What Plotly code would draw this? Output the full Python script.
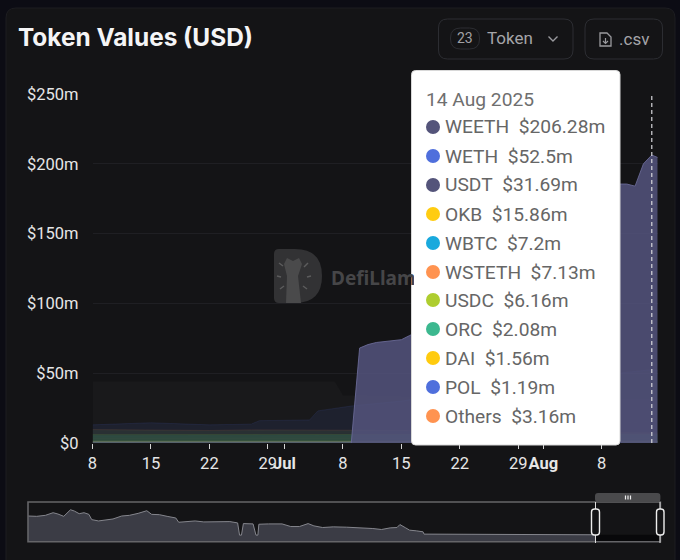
import pandas as pd
import plotly.graph_objects as go

W, H = 680, 560

TITLE = "Token Values (USD)"
TOOLTIP_DATE = "14 Aug 2025"
HOVER_DATE = "2025-08-14"
RANGE_START = "2025-06-08"
RANGE_END = "2025-08-14 17:00"

WEETH_DATES = ["2025-06-08", "2025-07-09", "2025-07-10", "2025-07-11", "2025-07-12", "2025-07-13", "2025-07-14",
               "2025-07-15", "2025-07-16", "2025-07-17", "2025-07-22", "2025-07-29", "2025-08-05", "2025-08-09",
               "2025-08-10", "2025-08-11", "2025-08-12", "2025-08-13", "2025-08-14", "2025-08-14 17:00"]
WEETH = [0, 0, 68, 70.5, 72, 72.5, 73, 74, 77, 80, 105, 135, 170, 184, 185.5, 185.5, 184, 200, 206.28, 204.5]

LOW_DATES = ["2025-06-08", "2025-06-15", "2025-06-22", "2025-06-27", "2025-06-28", "2025-07-04", "2025-07-05",
             "2025-07-07", "2025-07-08", "2025-07-09", "2025-07-15", "2025-07-22", "2025-07-29", "2025-08-05",
             "2025-08-10", "2025-08-14", "2025-08-14 17:00"]
WETH = [13, 14.5, 13, 13.5, 16, 16.5, 23, 25, 26, 26.5, 30, 36, 42, 47, 50, 52.5, 52]
USDT = [44, 44, 44, 44, 44, 44, 44, 44, 34, 34, 33, 33, 32, 32, 32, 31.69, 31.6]
OKB = [3, 3, 3, 3, 3, 3, 3, 3, 3, 3, 4, 5, 7, 10, 14, 15.86, 15.8]
WBTC = [5, 5, 5, 5, 5, 5, 5, 5, 5, 5, 5.5, 6, 6.5, 7, 7.1, 7.2, 7.2]
WSTETH = [9.6, 9.4, 9.0, 9.4, 9.4, 9.3, 9.3, 9.3, 9.3, 9.2, 9, 8.5, 8, 7.5, 7.2, 7.13, 7.1]
USDC = [6, 6.1, 6, 6, 6.1, 6.1, 6, 6, 6, 6, 6.1, 6.1, 6.2, 6.2, 6.2, 6.16, 6.16]
ORC = [2, 2, 2, 2, 2, 2, 2, 2, 2, 2, 2, 2, 2.1, 2.1, 2.1, 2.08, 2.08]
DAI = [1.5, 1.5, 1.5, 1.5, 1.5, 1.5, 1.5, 1.5, 1.5, 1.5, 1.5, 1.5, 1.5, 1.5, 1.55, 1.56, 1.56]
POL = [1, 1, 1, 1, 1, 1, 1, 1.1, 1.1, 1.1, 1.1, 1.1, 1.2, 1.2, 1.2, 1.19, 1.19]
OTHERS = [3, 3, 3, 3, 3, 3, 3, 3, 3, 3, 3, 3.1, 3.1, 3.1, 3.2, 3.16, 3.16]

TOOLTIP_NAMES = ["WEETH", "WETH", "USDT", "OKB", "WBTC", "WSTETH", "USDC", "ORC", "DAI", "POL", "Others"]
TOOLTIP_VALUES = ["$206.28m", "$52.5m", "$31.69m", "$15.86m", "$7.2m", "$7.13m", "$6.16m", "$2.08m", "$1.56m", "$1.19m", "$3.16m"]
DOT_COLORS = ["#54547a", "#4f6fdc", "#54547a", "#ffcc11", "#19a9dd", "#ff9350", "#aecd2f", "#3cb88f", "#ffcb0e", "#4f6fdc", "#ff9350"]

Y_TICKS = [0, 50, 100, 150, 200, 250]
Y_LABELS = ["$0", "$50m", "$100m", "$150m", "$200m", "$250m"]
X_TICKS = ["2025-06-08", "2025-06-15", "2025-06-22", "2025-06-29", "2025-07-01", "2025-07-08", "2025-07-15",
           "2025-07-22", "2025-07-29", "2025-08-01", "2025-08-08"]
X_LABELS = ["8", "15", "22", "29", "<b>Jul</b>", "8", "15", "22", "29", "<b>Aug</b>", "8"]

OV_START = "2023-10-30"
OV_DAY = [0, 9, 18, 26, 31, 37, 44, 48, 53, 58, 63, 66, 73, 81, 88, 97, 105, 114, 123, 128, 136, 144, 153, 156, 164,
          173, 182, 191, 200, 209, 217, 219, 221, 223, 233, 236, 238, 239, 249, 263, 272, 281, 290, 296, 305, 316,
          330, 343, 357, 366, 375, 382, 385, 391, 395, 402, 409, 410, 465, 510, 587]
OV_VALUE = [156, 154, 160, 176, 168, 154, 194, 186, 170, 176, 166, 134, 126, 134, 138, 156, 160, 172, 188, 166, 164,
            154, 144, 118, 122, 126, 120, 122, 124, 122, 114, 40, 40, 110, 108, 40, 40, 106, 108, 108, 92, 92, 110,
            96, 86, 90, 88, 86, 80, 74, 84, 86, 104, 84, 70, 66, 60, 46, 44, 44, 42]
OV_WINDOW_DAY = [587, 654.7]
OV_WINDOW_VALUE = [42, 42]


def px(x):
    return x / W


def py(y):
    return 1 - y / H


def rrect(x0, y0, x1, y1, r):
    a, b, c, d = px(x0), py(y0), px(x1), py(y1)
    rx, ry = r / W, r / H
    return (f"M{a+rx},{b} L{c-rx},{b} Q{c},{b} {c},{b-ry} L{c},{d+ry} Q{c},{d} {c-rx},{d} "
            f"L{a+rx},{d} Q{a},{d} {a},{d+ry} L{a},{b-ry} Q{a},{b} {a+rx},{b} Z")


def poly(points, close=False):
    s = "M" + " L".join(f"{px(x)},{py(y)}" for x, y in points)
    return s + (" Z" if close else "")


fig = go.Figure()


def area(x, y, fill, line, name):
    fig.add_trace(go.Scatter(x=x, y=y, name=name, mode="lines", fill="tozeroy", fillcolor=fill,
                             line=dict(color=line, width=1), showlegend=False, hoverinfo="skip",
                             xaxis="x", yaxis="y"))


area(LOW_DATES, USDT, "rgba(255,255,255,0.022)", "rgba(255,255,255,0.008)", "USDT")
area(LOW_DATES, WETH, "rgba(79,111,220,0.10)", "rgba(79,111,220,0.12)", "WETH")
area(LOW_DATES, OKB, "rgba(255,204,17,0.01)", "rgba(255,204,17,0.02)", "OKB")
area(LOW_DATES, WSTETH, "rgba(150,200,110,0.09)", "rgba(255,147,80,0.10)", "WSTETH")
area(LOW_DATES, WBTC, "rgba(25,169,221,0.02)", "rgba(25,169,221,0.03)", "WBTC")
area(LOW_DATES, USDC, "rgba(80,190,110,0.17)", "rgba(174,205,47,0.08)", "USDC")
area(LOW_DATES, OTHERS, "rgba(255,147,80,0.005)", "rgba(255,147,80,0.02)", "Others")
area(LOW_DATES, ORC, "rgba(60,184,143,0.02)", "rgba(60,184,143,0.04)", "ORC")
area(LOW_DATES, DAI, "rgba(255,203,14,0.05)", "rgba(255,203,14,0.08)", "DAI")
area(LOW_DATES, POL, "rgba(200,200,200,0.10)", "rgba(200,200,200,0.20)", "POL")
area(WEETH_DATES, WEETH, "rgba(84,84,125,0.86)", "rgba(105,105,150,0.9)", "WEETH")

ov_x = pd.Timestamp(OV_START) + pd.to_timedelta(OV_DAY, unit="D")
ov_wx = pd.Timestamp(OV_START) + pd.to_timedelta(OV_WINDOW_DAY, unit="D")
fig.add_trace(go.Scatter(x=ov_x, y=OV_VALUE, mode="lines", fill="tozeroy", fillcolor="#3b3c45",
                         line=dict(color="#85868d", width=1), showlegend=False, hoverinfo="skip",
                         xaxis="x2", yaxis="y2"))
fig.add_trace(go.Scatter(x=ov_wx, y=OV_WINDOW_VALUE, mode="lines", fill="tozeroy", fillcolor="#08080a",
                         line=dict(color="rgba(0,0,0,0)", width=0), showlegend=False, hoverinfo="skip",
                         xaxis="x2", yaxis="y2"))

PANEL = "#141416"
BORDER = "#2c2d32"
GREY = "#9a9a9e"
shapes = [
    dict(type="path", path=rrect(6, 8, 675, 575, 10), fillcolor=PANEL, line=dict(color="#1d1d21", width=1),
         xref="paper", yref="paper", layer="below"),
    dict(type="path", path=rrect(438.5, 19, 573, 59, 9), fillcolor="rgba(0,0,0,0)", line=dict(color=BORDER, width=1),
         xref="paper", yref="paper"),
    dict(type="path", path=rrect(450.5, 28, 479.5, 49, 10), fillcolor="rgba(0,0,0,0)", line=dict(color=BORDER, width=1),
         xref="paper", yref="paper"),
    dict(type="path", path=poly([(548.5, 36.5), (553, 41), (557.5, 36.5)]), line=dict(color=GREY, width=1.4),
         xref="paper", yref="paper"),
    dict(type="path", path=rrect(585, 19, 662.5, 59, 9), fillcolor="rgba(0,0,0,0)", line=dict(color=BORDER, width=1),
         xref="paper", yref="paper"),
    dict(type="path", path=poly([(600, 33), (607, 33), (611, 37), (611, 46), (600, 46)], True),
         fillcolor="rgba(0,0,0,0)", line=dict(color=GREY, width=1.3), xref="paper", yref="paper"),
    dict(type="path", path=poly([(605.5, 38), (605.5, 43)]), line=dict(color=GREY, width=1.2), xref="paper", yref="paper"),
    dict(type="path", path=poly([(603, 41), (605.5, 43.5), (608, 41)]), line=dict(color=GREY, width=1.2), xref="paper", yref="paper"),
    # watermark logo
    dict(type="path", path=f"M{px(279)},{py(249)} L{px(295)},{py(249)} Q{px(322)},{py(249)} {px(322)},{py(276)} "
                           f"Q{px(322)},{py(303)} {px(295)},{py(303)} L{px(279)},{py(303)} Q{px(274)},{py(303)} {px(274)},{py(298)} "
                           f"L{px(274)},{py(254)} Q{px(274)},{py(249)} {px(279)},{py(249)} Z",
         fillcolor="#323234", line=dict(width=0), xref="paper", yref="paper", layer="below"),
    dict(type="path", path=poly([(286, 303), (287, 276), (284, 264), (287, 258), (293, 261), (299, 258), (302, 264),
                                 (298, 276), (301, 303)], True),
         fillcolor="#4a4a4b", line=dict(width=0), xref="paper", yref="paper", layer="below"),
    # overview frame
    dict(type="rect", x0=px(28), x1=px(660.4), y0=py(502), y1=py(541.7), xref="paper", yref="paper",
         line=dict(color="#656568", width=1.6), fillcolor="rgba(0,0,0,0)", layer="above"),
    dict(type="path", path=rrect(595, 493, 660.4, 502, 3), fillcolor="#4a4a4c", line=dict(width=0),
         xref="paper", yref="paper"),
    dict(type="line", x0=px(595.5), x1=px(595.5), y0=py(502), y1=py(543), xref="paper", yref="paper",
         line=dict(color="#dddddd", width=1)),
    dict(type="line", x0=px(660), x1=px(660), y0=py(502), y1=py(543), xref="paper", yref="paper",
         line=dict(color="#dddddd", width=1)),
    dict(type="path", path=rrect(591.5, 509, 599.5, 535, 3), fillcolor=PANEL, line=dict(color="#eeeeee", width=1.4),
         xref="paper", yref="paper"),
    dict(type="path", path=rrect(656.5, 509, 664, 535, 3), fillcolor=PANEL, line=dict(color="#eeeeee", width=1.4),
         xref="paper", yref="paper"),
    # hover line
    dict(type="line", x0=HOVER_DATE, x1=HOVER_DATE, y0=0, y1=250, xref="x", yref="y",
         line=dict(color="#d8d8dc", width=1.2, dash="4px,3px"), layer="above"),
    # tooltip box
    dict(type="path", path=rrect(411.5, 70.5, 620, 445, 4), fillcolor="#ffffff", line=dict(color="#d8d8d8", width=1),
         xref="paper", yref="paper", layer="above"),
]
for bar_x in (625.5, 628, 630.5):
    shapes.append(dict(type="line", x0=px(bar_x), x1=px(bar_x), y0=py(495.5), y1=py(499.5), xref="paper", yref="paper",
                       line=dict(color="#eeeeee", width=1.2)))
for ray in [((279, 263), (283, 266)), ((277, 276), (281, 277)), ((280, 289), (284, 286)),
            ((308, 263), (304, 267)), ((311, 276), (307, 277)), ((307, 289), (303, 286))]:
    shapes.append(dict(type="path", path=poly(list(ray)), line=dict(color="#5c5c5d", width=1.4),
                       xref="paper", yref="paper", layer="below"))

ROW_Y = [127, 156, 185, 214, 243, 272, 300, 329, 358, 387, 416]
for yy, c in zip(ROW_Y, DOT_COLORS):
    shapes.append(dict(type="circle", x0=px(426), x1=px(440), y0=py(yy - 7), y1=py(yy + 7), fillcolor=c,
                       line=dict(width=0), xref="paper", yref="paper", layer="above"))


def label(text, x, y, size, color, family="Roboto", anchor="left", **kw):
    return dict(text=text, x=px(x), y=py(y), xref="paper", yref="paper", xanchor=anchor, yanchor="middle",
                showarrow=False, font=dict(size=size, color=color, family=family), **kw)


annotations = [
    label(f"<b>{TITLE}</b>", 16, 37, 24.4, "#f5f5f6", "Inter"),
    label("23", 465, 38.5, 14, "#a0a0a4", anchor="center"),
    label("Token", 485, 38.5, 17, "#a5a5a9"),
    label(".csv", 617, 39, 17, "#a5a5a9"),
    dict(text="<b>DefiLlama</b>", x=px(329), y=py(278), xref="paper", yref="paper", xanchor="left", yanchor="middle",
         showarrow=False, width=83, align="left", font=dict(size=19, color="#464648", family="Noto Sans")),
    label(TOOLTIP_DATE, 424, 99, 19.2, "#6f6f6f"),
]
for yy, n, v in zip(ROW_Y, TOOLTIP_NAMES, TOOLTIP_VALUES):
    annotations.append(label(f"{n}\u00a0\u00a0{v}", 443, yy, 19.2, "#666666"))

fig.update_layout(
    width=W, height=H, autosize=False, margin=dict(l=0, r=0, t=0, b=0, pad=0),
    paper_bgcolor="#0c0c14", plot_bgcolor="rgba(0,0,0,0)", showlegend=False,
    xaxis=dict(domain=[px(92.5), px(657.7)], range=[RANGE_START, RANGE_END], type="date", anchor="y",
               automargin=False, tickangle=0,
               tickmode="array", tickvals=X_TICKS, ticktext=X_LABELS, ticks="outside", ticklen=5, tickwidth=1,
               tickcolor="#d5d5d5", showgrid=False, zeroline=False, showline=False,
               tickfont=dict(family="Roboto", size=16.5, color="#e6e6e6")),
    yaxis=dict(domain=[py(443), py(94)], range=[0, 250], anchor="x", tickmode="array", tickvals=Y_TICKS,
               automargin=False,
               ticktext=Y_LABELS, showgrid=True, gridcolor="#1f1f23", gridwidth=1, zeroline=False, showline=False,
               ticks="", ticklabelstandoff=13, tickfont=dict(family="Roboto", size=16.5, color="#e6e6e6")),
    xaxis2=dict(domain=[px(28), px(660.4)], range=[ov_x[0], ov_wx[-1]], type="date", anchor="y2", visible=False, automargin=False),
    yaxis2=dict(domain=[py(541.7), py(502)], range=[0, 241], anchor="x2", visible=False, automargin=False),
    shapes=shapes, annotations=annotations,
)

fig.write_html("out.html", config=dict(displayModeBar=False),
               post_script="document.body.style.margin='0';document.body.style.background='#0c0c14';")
